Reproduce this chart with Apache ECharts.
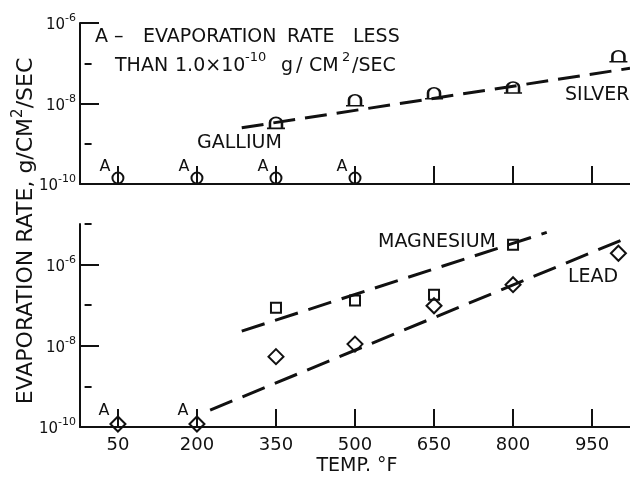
<!DOCTYPE html>
<html><head><meta charset="utf-8">
<script src="https://cdn.jsdelivr.net/npm/echarts@6/dist/echarts.min.js"></script>
<style>html,body{margin:0;padding:0;background:#fff}#c{width:630px;height:477px}</style>
</head><body><div id="c"></div>
<script>
// ---- data (temperature in °F, evaporation rate in g/cm²/sec) ----
const xTicks = [50, 200, 350, 500, 650, 800, 950];
const yMajorExp = [-10, -8, -6];
const topMinorExp = [-9, -7];
const bottomMinorExp = [-9, -7, -5];

// top panel
const silverTemps = [350, 500, 650, 800, 1000];
const silverRates = [3.3e-9, 1.2e-8, 1.8e-8, 2.5e-8, 1.5e-7];
const galliumLessTemps = [50, 200, 350, 500];          // "A" points (< 1.0e-10)
const galliumLessRates = [1e-10, 1e-10, 1e-10, 1e-10];
const silverFitTemps = [285, 1022];
const silverFitRates = [2.5e-9, 7.5e-8];

// bottom panel
const magTemps = [350, 500, 650, 800];
const magRates = [8.7e-8, 1.3e-7, 1.8e-7, 3.1e-6];
const leadTemps = [350, 500, 650, 800, 1000];
const leadRates = [5.4e-9, 1.1e-8, 9.7e-8, 3.2e-7, 1.9e-6];
const leadLessTemps = [50, 200];                       // "A" points (< 1.0e-10)
const leadLessRates = [1e-10, 1e-10];
const magFitTemps = [285, 864];
const magFitRates = [2.3e-8, 6.2e-6];
const leadFitTemps = [225, 1022];
const leadFitRates = [2.6e-10, 4.9e-6];

// ---- build ----
const INK = '#111';
const FONT = 'DejaVu Sans';
const pts = (xs, ys) => xs.map((x, i) => [x, Math.log10(ys[i])]);

const chart = echarts.init(document.getElementById('c'), null, {renderer: 'canvas'});

const xBase = (grid, showLabels) => ({
  type: 'value', gridIndex: grid, min: -22, max: 1022,
  axisLine: {show: true, onZero: false, lineStyle: {color: INK, width: 2}},
  axisTick: {show: true, inside: true, length: 18, customValues: xTicks, lineStyle: {color: INK, width: 2}},
  axisLabel: {show: showLabels, customValues: xTicks, color: INK, fontFamily: FONT, fontSize: 18, margin: 9},
  splitLine: {show: false},
  name: showLabels ? 'TEMP. °F' : '', nameLocation: 'middle', nameGap: 30,
  nameTextStyle: {color: INK, fontFamily: FONT, fontSize: 19, padding: [0, 0, 0, 4]}
});

const yMajor = (grid, max) => ({
  type: 'value', gridIndex: grid, min: -10, max: max,
  axisLine: {show: true, onZero: false, lineStyle: {color: INK, width: 2}},
  axisTick: {show: true, inside: true, length: 19, customValues: yMajorExp, lineStyle: {color: INK, width: 2}},
  axisLabel: {
    show: true, customValues: yMajorExp, margin: 4,
    formatter: v => '{b|10}{s|' + v + '}',
    rich: {
      b: {color: INK, fontFamily: FONT, fontSize: 15, verticalAlign: 'bottom', lineHeight: 20},
      s: {color: INK, fontFamily: FONT, fontSize: 11, verticalAlign: 'top', lineHeight: 20, padding: [0, 0, 8, 0]}
    }
  },
  splitLine: {show: false}
});

const yMinor = (grid, max, vals) => ({
  type: 'value', gridIndex: grid, min: -10, max: max,
  axisLine: {show: false},
  axisTick: {show: true, inside: true, length: 7, customValues: vals, lineStyle: {color: INK, width: 2}},
  axisLabel: {show: false},
  splitLine: {show: false}
});

const markerStyle = {color: 'rgba(0,0,0,0)', borderColor: INK, borderWidth: 2, opacity: 1};
const tomb = 'path://M-3,11 L15,11 M0,11 L0,5 A6,5 0 0 1 12,5 L12,11 Z';
const dashLine = (xIdx, yIdx, data, dash) => ({
  type: 'line', xAxisIndex: xIdx, yAxisIndex: yIdx, data: data,
  symbol: 'none', silent: true,
  lineStyle: {color: INK, width: 3, type: dash}
});
const aLabel = (dx, dy) => ({show: true, formatter: 'A', position: 'inside', offset: [dx, dy],
  color: INK, fontFamily: FONT, fontSize: 16});

const txt = (s, x, y, size) => ({type: 'text', left: x, top: y,
  style: {text: s, fill: INK, font: (size || 19) + 'px "DejaVu Sans"'}});

chart.setOption({
  animation: false,
  backgroundColor: '#fff',
  grid: [
    {left: 80, top: 23, width: 550, height: 161, outerBoundsMode: 'none', containLabel: false},
    {left: 80, top: 224, width: 550, height: 203, outerBoundsMode: 'none', containLabel: false}
  ],
  xAxis: [xBase(0, false), xBase(1, true)],
  yAxis: [yMajor(0, -6), yMinor(0, -6, topMinorExp), yMajor(1, -5), yMinor(1, -5, bottomMinorExp)],
  series: [
    dashLine(0, 0, pts(silverFitTemps, silverFitRates), [22, 10]),
    {type: 'scatter', xAxisIndex: 0, yAxisIndex: 0, data: pts(silverTemps, silverRates),
     symbol: tomb, symbolSize: [18, 11], itemStyle: markerStyle},
    {type: 'scatter', xAxisIndex: 0, yAxisIndex: 0, data: pts(galliumLessTemps, galliumLessRates),
     symbol: 'circle', symbolSize: 11, symbolOffset: [0, -6], itemStyle: markerStyle, label: aLabel(-13, -11)},
    dashLine(1, 2, pts(magFitTemps, magFitRates), [24, 11]),
    dashLine(1, 2, pts(leadFitTemps, leadFitRates), [24, 11]),
    {type: 'scatter', xAxisIndex: 1, yAxisIndex: 2, data: pts(magTemps, magRates),
     symbol: 'rect', symbolSize: 10, itemStyle: markerStyle},
    {type: 'scatter', xAxisIndex: 1, yAxisIndex: 2, data: pts(leadTemps, leadRates),
     symbol: 'diamond', symbolSize: 15, itemStyle: markerStyle},
    {type: 'scatter', xAxisIndex: 1, yAxisIndex: 2, data: pts(leadLessTemps, leadLessRates),
     symbol: 'diamond', symbolSize: 15, symbolOffset: [0, -3], itemStyle: markerStyle, label: aLabel(-14, -13)}
  ],
  graphic: [
    txt('A', 95, 28), txt('–', 114, 28), txt('EVAPORATION', 143, 28), txt('RATE', 287, 28), txt('LESS', 353, 28),
    txt('THAN', 115, 57), txt('1.0×10', 175, 57), txt('-10', 245, 51, 13),
    txt('g', 281, 57), txt('/', 296, 57), txt('CM', 309, 57), txt('2', 342, 51, 13), txt('/SEC', 352, 57),
    txt('GALLIUM', 197, 134), txt('SILVER', 565, 86), txt('MAGNESIUM', 378, 233), txt('LEAD', 568, 268),
    {type: 'text', x: 24, y: 231, rotation: Math.PI / 2, style: {
      text: '{a|EVAPORATION RATE, g/CM}{s|2}{a|/SEC}', align: 'center', verticalAlign: 'middle',
      rich: {a: {fill: INK, fontFamily: FONT, fontSize: 22, verticalAlign: 'bottom', lineHeight: 26},
             s: {fill: INK, fontFamily: FONT, fontSize: 15, verticalAlign: 'top', lineHeight: 26}}}}
  ]
});
</script></body></html>
